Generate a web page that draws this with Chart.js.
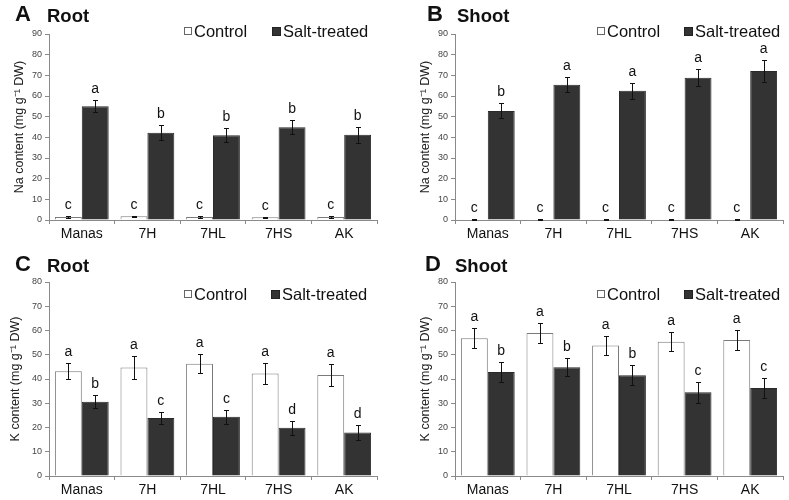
<!DOCTYPE html>
<html>
<head>
<meta charset="utf-8">
<script src="https://cdn.jsdelivr.net/npm/chart.js@4"></script>
<style>
  body { margin: 0; background: #fff; }
  #fig { position: relative; width: 789px; height: 500px; overflow: hidden;
         font-family: Arial, "Liberation Sans", sans-serif; color: #111; }
  #fig canvas { position: absolute; }
  .tag { position: absolute; font-weight: bold; font-size: 22px; line-height: 22px; }
  .name { position: absolute; font-weight: bold; font-size: 18.5px; line-height: 18.5px; }
  .leg { position: absolute; display: flex; align-items: center; height: 20px;
         font-size: 16.5px; line-height: 20px; white-space: nowrap; }
  .box { display: inline-block; margin-right: 2px; box-sizing: border-box; }
  .box.ctl { width: 8px; height: 8px; border: 1px solid #666; background: #fff; }
  .box.salt { width: 9px; height: 9px; background: #333; border: 1px solid #222; }
</style>
</head>
<body>
<div id="fig">
  <canvas id="panelA" width="395" height="250" style="left:0;top:0"></canvas>
  <canvas id="panelB" width="394" height="250" style="left:395px;top:0"></canvas>
  <canvas id="panelC" width="395" height="250" style="left:0;top:250px"></canvas>
  <canvas id="panelD" width="394" height="250" style="left:395px;top:250px"></canvas>

  <div class="tag" style="left:15px;top:3px">A</div>
  <div class="name" style="left:47px;top:7px">Root</div>
  <div class="tag" style="left:427px;top:3px">B</div>
  <div class="name" style="left:457px;top:7px">Shoot</div>
  <div class="tag" style="left:15px;top:253px">C</div>
  <div class="name" style="left:47px;top:257px">Root</div>
  <div class="tag" style="left:425px;top:253px">D</div>
  <div class="name" style="left:455px;top:257px">Shoot</div>

  <div class="leg" style="left:184px;top:21px"><span class="box ctl"></span>Control</div>
  <div class="leg" style="left:272px;top:21px"><span class="box salt"></span>Salt-treated</div>
  <div class="leg" style="left:597px;top:21px"><span class="box ctl"></span>Control</div>
  <div class="leg" style="left:684px;top:21px"><span class="box salt"></span>Salt-treated</div>
  <div class="leg" style="left:184px;top:284px"><span class="box ctl"></span>Control</div>
  <div class="leg" style="left:271px;top:284px"><span class="box salt"></span>Salt-treated</div>
  <div class="leg" style="left:597px;top:284px"><span class="box ctl"></span>Control</div>
  <div class="leg" style="left:684px;top:284px"><span class="box salt"></span>Salt-treated</div>
</div>

<script>
// genotypes on the x axis
const categories = ["Manas", "7H", "7HL", "7HS", "AK"];

// A - Na in root
const naRootControl = [1.45, 1.8, 1.45, 1.3, 1.45];
const naRootControlErr = [0.4, 0.3, 0.4, 0.3, 0.5];
const naRootControlLetters = ["c", "c", "c", "c", "c"];
const naRootSalt = [55.1, 42.2, 41.0, 44.9, 41.2];
const naRootSaltErr = [3.0, 3.7, 3.4, 3.4, 3.7];
const naRootSaltLetters = ["a", "b", "b", "b", "b"];

// B - Na in shoot
const naShootControl = [0.4, 0.4, 0.4, 0.4, 0.4];
const naShootControlErr = [0.2, 0.2, 0.2, 0.2, 0.2];
const naShootControlLetters = ["c", "c", "c", "c", "c"];
const naShootSalt = [52.8, 65.4, 62.5, 68.8, 72.1];
const naShootSaltErr = [3.6, 3.7, 4.0, 4.1, 5.5];
const naShootSaltLetters = ["b", "a", "a", "a", "a"];

// C - K in root
const kRootControl = [43.2, 44.7, 46.3, 42.3, 41.7];
const kRootControlErr = [3.4, 4.8, 4.0, 4.3, 4.6];
const kRootControlLetters = ["a", "a", "a", "a", "a"];
const kRootSalt = [30.6, 23.9, 24.4, 19.9, 17.9];
const kRootSaltErr = [2.6, 2.6, 2.8, 2.9, 3.2];
const kRootSaltLetters = ["b", "c", "c", "d", "d"];

// D - K in shoot
const kShootControl = [56.8, 59.0, 53.8, 55.4, 56.1];
const kShootControlErr = [4.2, 4.2, 4.1, 4.0, 4.2];
const kShootControlLetters = ["a", "a", "a", "a", "a"];
const kShootSalt = [42.9, 44.8, 41.5, 34.5, 36.3];
const kShootSaltErr = [4.1, 3.7, 4.1, 4.3, 4.3];
const kShootSaltLetters = ["b", "b", "b", "c", "c"];

const FONT = "Arial, 'Liberation Sans', sans-serif";

// draws the SD whiskers and the significance letters over every bar
const errorBars = {
    id: "errorBars",
    afterDatasetsDraw(chart) {
        const ctx = chart.ctx;
        const y = chart.scales.y;
        chart.data.datasets.forEach((ds, i) => {
            chart.getDatasetMeta(i).data.forEach((bar, j) => {
                const v = ds.data[j], e = ds.errors[j];
                const top = Math.round(y.getPixelForValue(v + e)) + 0.5;
                const bot = Math.round(y.getPixelForValue(v - e)) + 0.5;
                const x = Math.round(bar.x) + 0.5;
                ctx.save();
                ctx.strokeStyle = "#111";
                ctx.lineWidth = 1;
                ctx.beginPath();
                ctx.moveTo(x, top); ctx.lineTo(x, bot);
                ctx.moveTo(x - 2.5, top); ctx.lineTo(x + 2.5, top);
                ctx.moveTo(x - 2.5, bot); ctx.lineTo(x + 2.5, bot);
                ctx.stroke();
                ctx.fillStyle = "#111";
                ctx.font = "14px " + FONT;
                ctx.textAlign = "center";
                ctx.textBaseline = "alphabetic";
                ctx.fillText(ds.letters[j], bar.x, top - 8);
                ctx.restore();
            });
        });
    }
};

function makePanel(id, p) {
    new Chart(document.getElementById(id), {
        type: "bar",
        data: {
            labels: categories,
            datasets: [{
                label: "Control",
                data: p.control,
                errors: p.controlErr,
                letters: p.controlLetters,
                backgroundColor: "#ffffff",
                borderColor: "#7a7a7a",
                borderWidth: 1
            }, {
                label: "Salt-treated",
                data: p.salt,
                errors: p.saltErr,
                letters: p.saltLetters,
                backgroundColor: "#333333",
                borderColor: "#2a2a2a",
                borderWidth: 1
            }]
        },
        options: {
            responsive: false,
            animation: false,
            layout: { padding: { left: 0, top: p.top, right: p.right, bottom: 0 } },
            datasets: { bar: { categoryPercentage: 0.82, barPercentage: 1 } },
            plugins: {
                legend: { display: false },
                tooltip: { enabled: false }
            },
            scales: {
                x: {
                    grid: { drawOnChartArea: false, tickLength: 4, color: "#8a8a8a" },
                    border: { color: "#8a8a8a" },
                    ticks: { color: "#111", padding: 2, font: { size: 14, family: FONT } },
                    afterFit: s => { s.height = p.xHeight; }
                },
                y: {
                    min: 0,
                    max: p.max,
                    grid: { drawOnChartArea: false, tickLength: 4, color: "#8a8a8a" },
                    border: { color: "#8a8a8a" },
                    ticks: { stepSize: 10, color: "#444", padding: 3, font: { size: 9, family: FONT } },
                    title: {
                        display: true,
                        text: p.yTitle,
                        color: "#222",
                        font: { size: 12.5, family: FONT },
                        padding: { top: p.titlePad, bottom: 0 }
                    },
                    afterFit: s => { s.width = p.yWidth; }
                }
            }
        },
        plugins: [errorBars]
    });
}

makePanel("panelA", {
    control: naRootControl, controlErr: naRootControlErr, controlLetters: naRootControlLetters,
    salt: naRootSalt, saltErr: naRootSaltErr, saltLetters: naRootSaltLetters,
    max: 90, yTitle: "Na content (mg g\u207B\u00B9 DW)",
    top: 34, right: 18, xHeight: 30, yWidth: 49, titlePad: 12
});
makePanel("panelB", {
    control: naShootControl, controlErr: naShootControlErr, controlLetters: naShootControlLetters,
    salt: naShootSalt, saltErr: naShootSaltErr, saltLetters: naShootSaltLetters,
    max: 90, yTitle: "Na content (mg g\u207B\u00B9 DW)",
    top: 34, right: 6, xHeight: 30, yWidth: 60, titlePad: 23
});
makePanel("panelC", {
    control: kRootControl, controlErr: kRootControlErr, controlLetters: kRootControlLetters,
    salt: kRootSalt, saltErr: kRootSaltErr, saltLetters: kRootSaltLetters,
    max: 80, yTitle: "K content (mg g\u207B\u00B9 DW)",
    top: 32, right: 18, xHeight: 24, yWidth: 49, titlePad: 8
});
makePanel("panelD", {
    control: kShootControl, controlErr: kShootControlErr, controlLetters: kShootControlLetters,
    salt: kShootSalt, saltErr: kShootSaltErr, saltLetters: kShootSaltLetters,
    max: 80, yTitle: "K content (mg g\u207B\u00B9 DW)",
    top: 32, right: 6, xHeight: 24, yWidth: 60, titlePad: 23
});
</script>
</body>
</html>
